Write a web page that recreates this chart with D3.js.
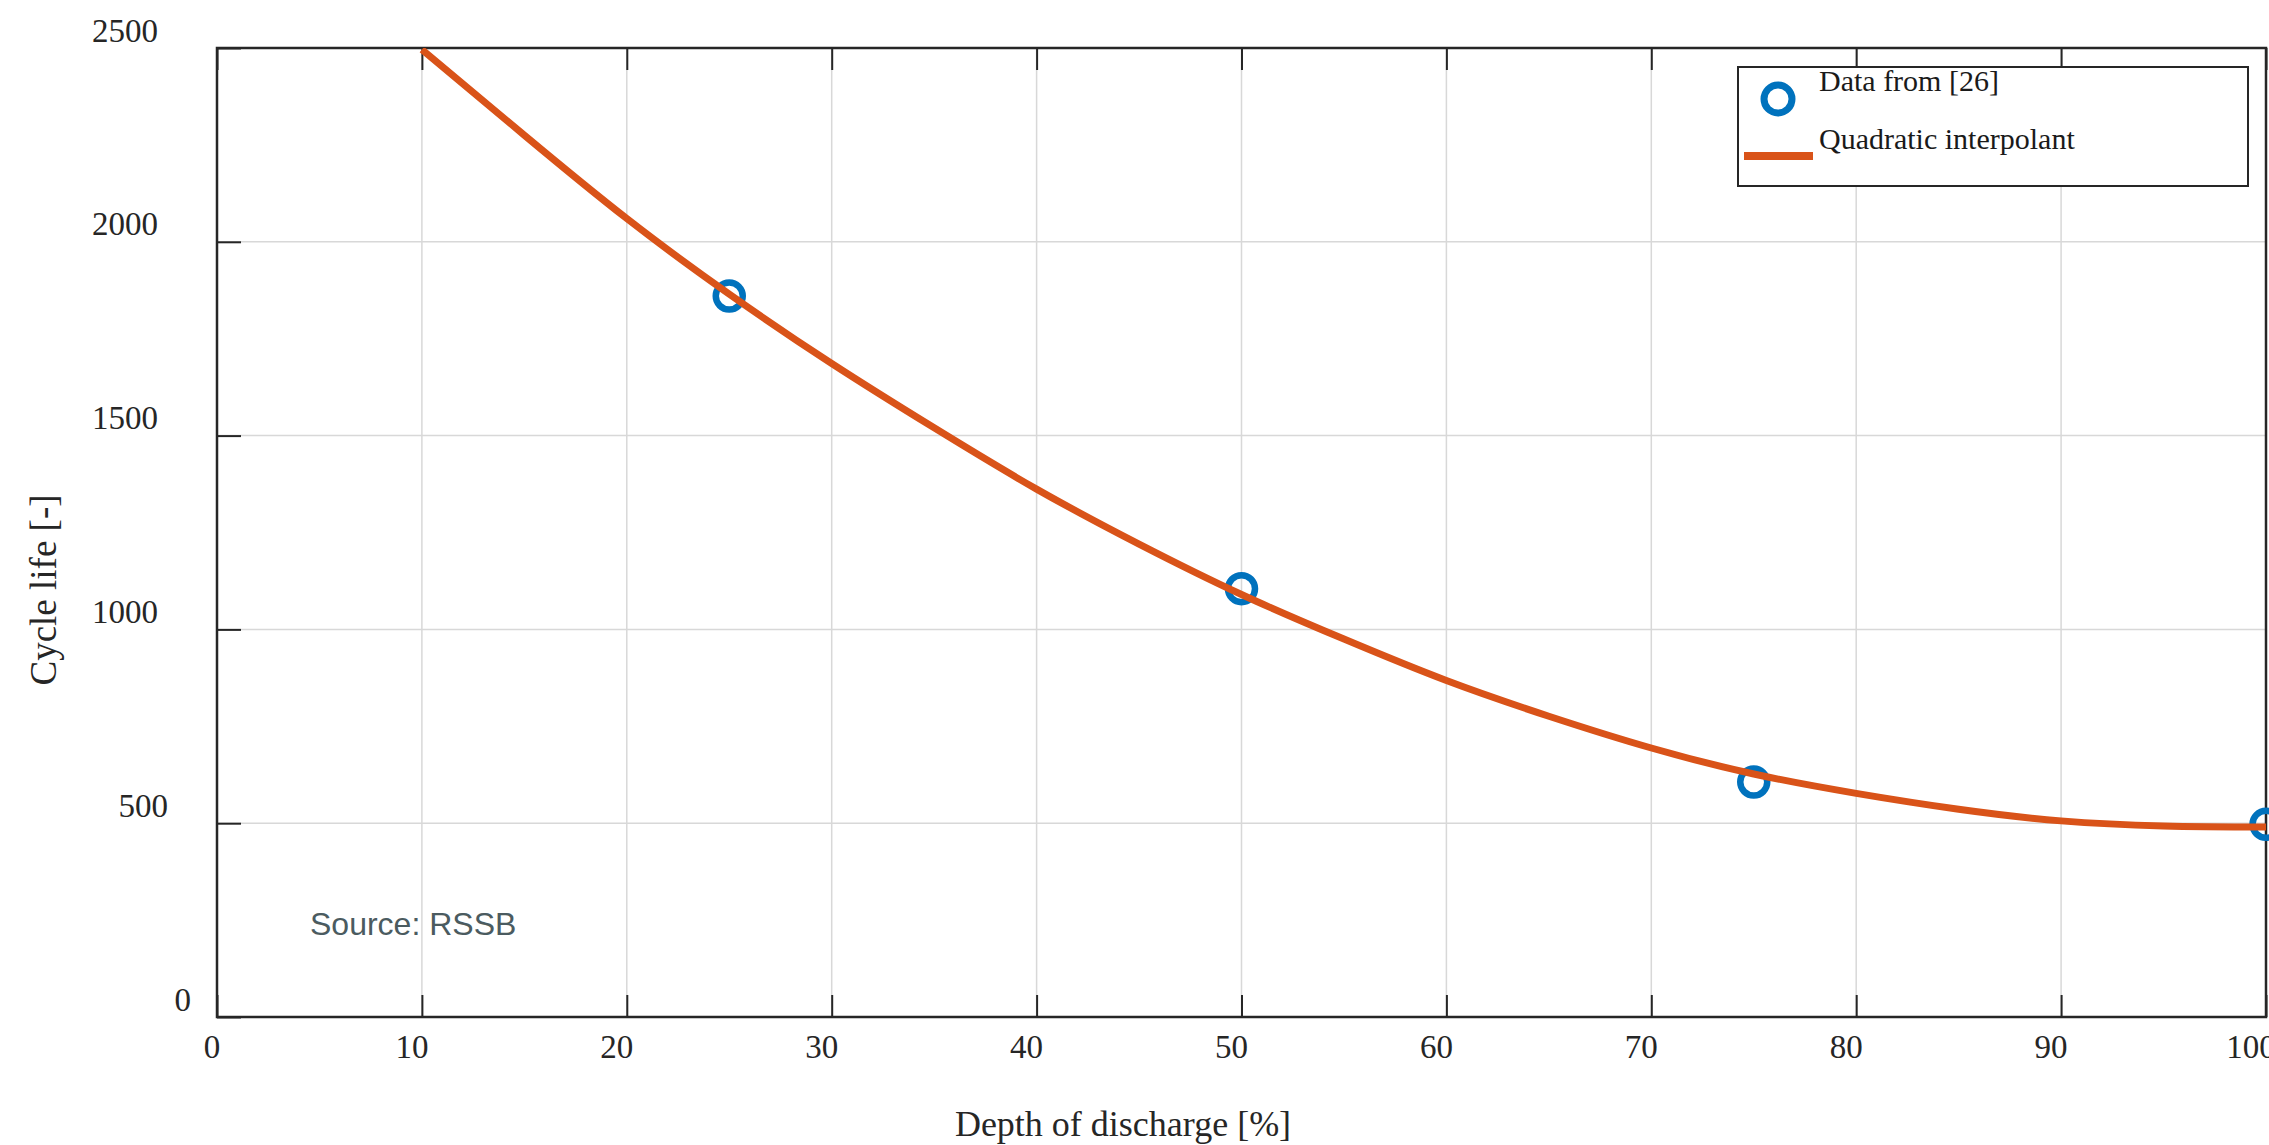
<!DOCTYPE html>
<html>
<head>
<meta charset="utf-8">
<script src="https://cdn.jsdelivr.net/npm/d3@7"></script>
<style>
  body { margin: 0; background: #fff; }
  svg { display: block; }
</style>
</head>
<body>
<svg id="chart" width="2269" height="1145"></svg>
<script>
// measured points
const dodPoints = [25, 50, 75, 100];
const cyclePoints = [1860, 1105, 606, 497];

// fitted curve
const dodCurve = [10, 15, 20, 25, 30, 35, 40, 45, 50, 55, 60, 65, 70, 75, 80, 85, 90, 95, 100];
const cycleCurve = [2496, 2275, 2060, 1865, 1686, 1520, 1362, 1220, 1090, 975, 868, 776, 694, 627, 577, 536, 506, 493, 490];

const xTicks = [0, 10, 20, 30, 40, 50, 60, 70, 80, 90, 100];
const yTicks = [0, 500, 1000, 1500, 2000, 2500];

const legendLabels = ["Data from [26]", "Quadratic interpolant"];

const margin = { top: 48, right: 3, bottom: 128, left: 217 };
const width = 2269 - margin.left - margin.right;
const height = 1145 - margin.top - margin.bottom;

const serif = "'Liberation Serif', 'Times New Roman', serif";
const axisColor = "#262626";

const svg = d3.select("#chart");

const x = d3.scaleLinear().domain([0, 100]).range([0, width]);
const y = d3.scaleLinear().domain([0, 2500]).range([height, 0]);

const g = svg.append("g")
  .attr("transform", `translate(${margin.left},${margin.top})`);

g.append("clipPath").attr("id", "plotClip")
  .append("rect").attr("width", width).attr("height", height);

// grid
g.append("g")
  .selectAll("line.vgrid")
  .data(xTicks)
  .enter().append("line")
    .attr("x1", d => x(d)).attr("x2", d => x(d))
    .attr("y1", 0).attr("y2", height)
    .attr("stroke", "#d8d8d8").attr("stroke-width", 1.5);
g.append("g")
  .selectAll("line.hgrid")
  .data(yTicks)
  .enter().append("line")
    .attr("y1", d => y(d)).attr("y2", d => y(d))
    .attr("x1", 0).attr("x2", width)
    .attr("stroke", "#d8d8d8").attr("stroke-width", 1.5);

// bottom / top / left axes, ticks pointing inwards
const bottomAxis = g.append("g")
  .attr("transform", `translate(0,${height})`)
  .call(d3.axisBottom(x).tickValues(xTicks).tickSize(-22).tickFormat(""));
const topAxis = g.append("g")
  .call(d3.axisTop(x).tickValues(xTicks).tickSize(-22).tickFormat(""));
const leftAxis = g.append("g")
  .call(d3.axisLeft(y).tickValues(yTicks).tickSize(-24).tickFormat(""));
[bottomAxis, topAxis, leftAxis].forEach(a => {
  a.select(".domain").remove();
  a.selectAll(".tick line").attr("stroke", axisColor).attr("stroke-width", 2);
});

// box
g.append("rect")
  .attr("width", width).attr("height", height)
  .attr("fill", "none")
  .attr("stroke", axisColor)
  .attr("stroke-width", 2.5);

// tick labels (the picture has them shifted a bit up/left)
const yNudge = { 500: 10, 0: 33 };
g.append("g")
  .selectAll("text")
  .data(yTicks)
  .enter().append("text")
    .attr("x", d => -59 + (yNudge[d] || 0))
    .attr("y", d => y(d) - 18)
    .attr("dy", "0.35em")
    .attr("text-anchor", "end")
    .style("font-family", serif)
    .style("font-size", "33px")
    .attr("fill", "#262626")
    .text(d => d);

g.append("g")
  .selectAll("text")
  .data(xTicks)
  .enter().append("text")
    .attr("x", d => x(d) - (d === 0 ? 5 : d === 100 ? 15 : 10))
    .attr("y", height + 41)
    .attr("text-anchor", "middle")
    .style("font-family", serif)
    .style("font-size", "33px")
    .attr("fill", "#262626")
    .text(d => d);

// axis titles
svg.append("text")
  .attr("x", 1123)
  .attr("y", 1136)
  .attr("text-anchor", "middle")
  .style("font-family", serif)
  .style("font-size", "36px")
  .attr("fill", "#262626")
  .text("Depth of discharge [%]");

svg.append("text")
  .attr("transform", "translate(56,590) rotate(-90)")
  .attr("text-anchor", "middle")
  .style("font-family", serif)
  .style("font-size", "37px")
  .attr("fill", "#262626")
  .text("Cycle life [-]");

// data circles
g.append("g")
  .selectAll("circle")
  .data(dodPoints.map((d, i) => ({ x: d, y: cyclePoints[i] })))
  .enter().append("circle")
    .attr("cx", d => x(d.x))
    .attr("cy", d => y(d.y))
    .attr("r", 13.5)
    .attr("fill", "none")
    .attr("stroke", "#0072BD")
    .attr("stroke-width", 6.5);

// quadratic curve
g.append("path")
  .datum(dodCurve.map((d, i) => ({ x: d, y: cycleCurve[i] })))
  .attr("clip-path", "url(#plotClip)")
  .attr("fill", "none")
  .attr("stroke", "#D95319")
  .attr("stroke-width", 7)
  .attr("d", d3.line()
    .x(d => x(d.x))
    .y(d => y(d.y))
    .curve(d3.curveNatural));

// source note
svg.append("text")
  .attr("x", 310)
  .attr("y", 935)
  .style("font-family", "'Liberation Sans', Arial, sans-serif")
  .style("font-size", "32px")
  .attr("fill", "#4b5b60")
  .text("Source: RSSB");

// legend
const legend = svg.append("g");
legend.append("rect")
  .attr("x", 1738).attr("y", 67)
  .attr("width", 510).attr("height", 119)
  .attr("fill", "#fff")
  .attr("stroke", axisColor)
  .attr("stroke-width", 2);
legend.append("circle")
  .attr("cx", 1778).attr("cy", 99)
  .attr("r", 14)
  .attr("fill", "none")
  .attr("stroke", "#0072BD")
  .attr("stroke-width", 7);
legend.append("line")
  .attr("x1", 1744).attr("x2", 1813)
  .attr("y1", 156).attr("y2", 156)
  .attr("stroke", "#D95319")
  .attr("stroke-width", 8);
legend.selectAll("text.lab")
  .data(legendLabels)
  .enter().append("text")
    .attr("x", 1819)
    .attr("y", (d, i) => i === 0 ? 91 : 149)
    .style("font-family", serif)
    .style("font-size", "30px")
    .attr("fill", "#1a1a1a")
    .text(d => d);
</script>
</body>
</html>
